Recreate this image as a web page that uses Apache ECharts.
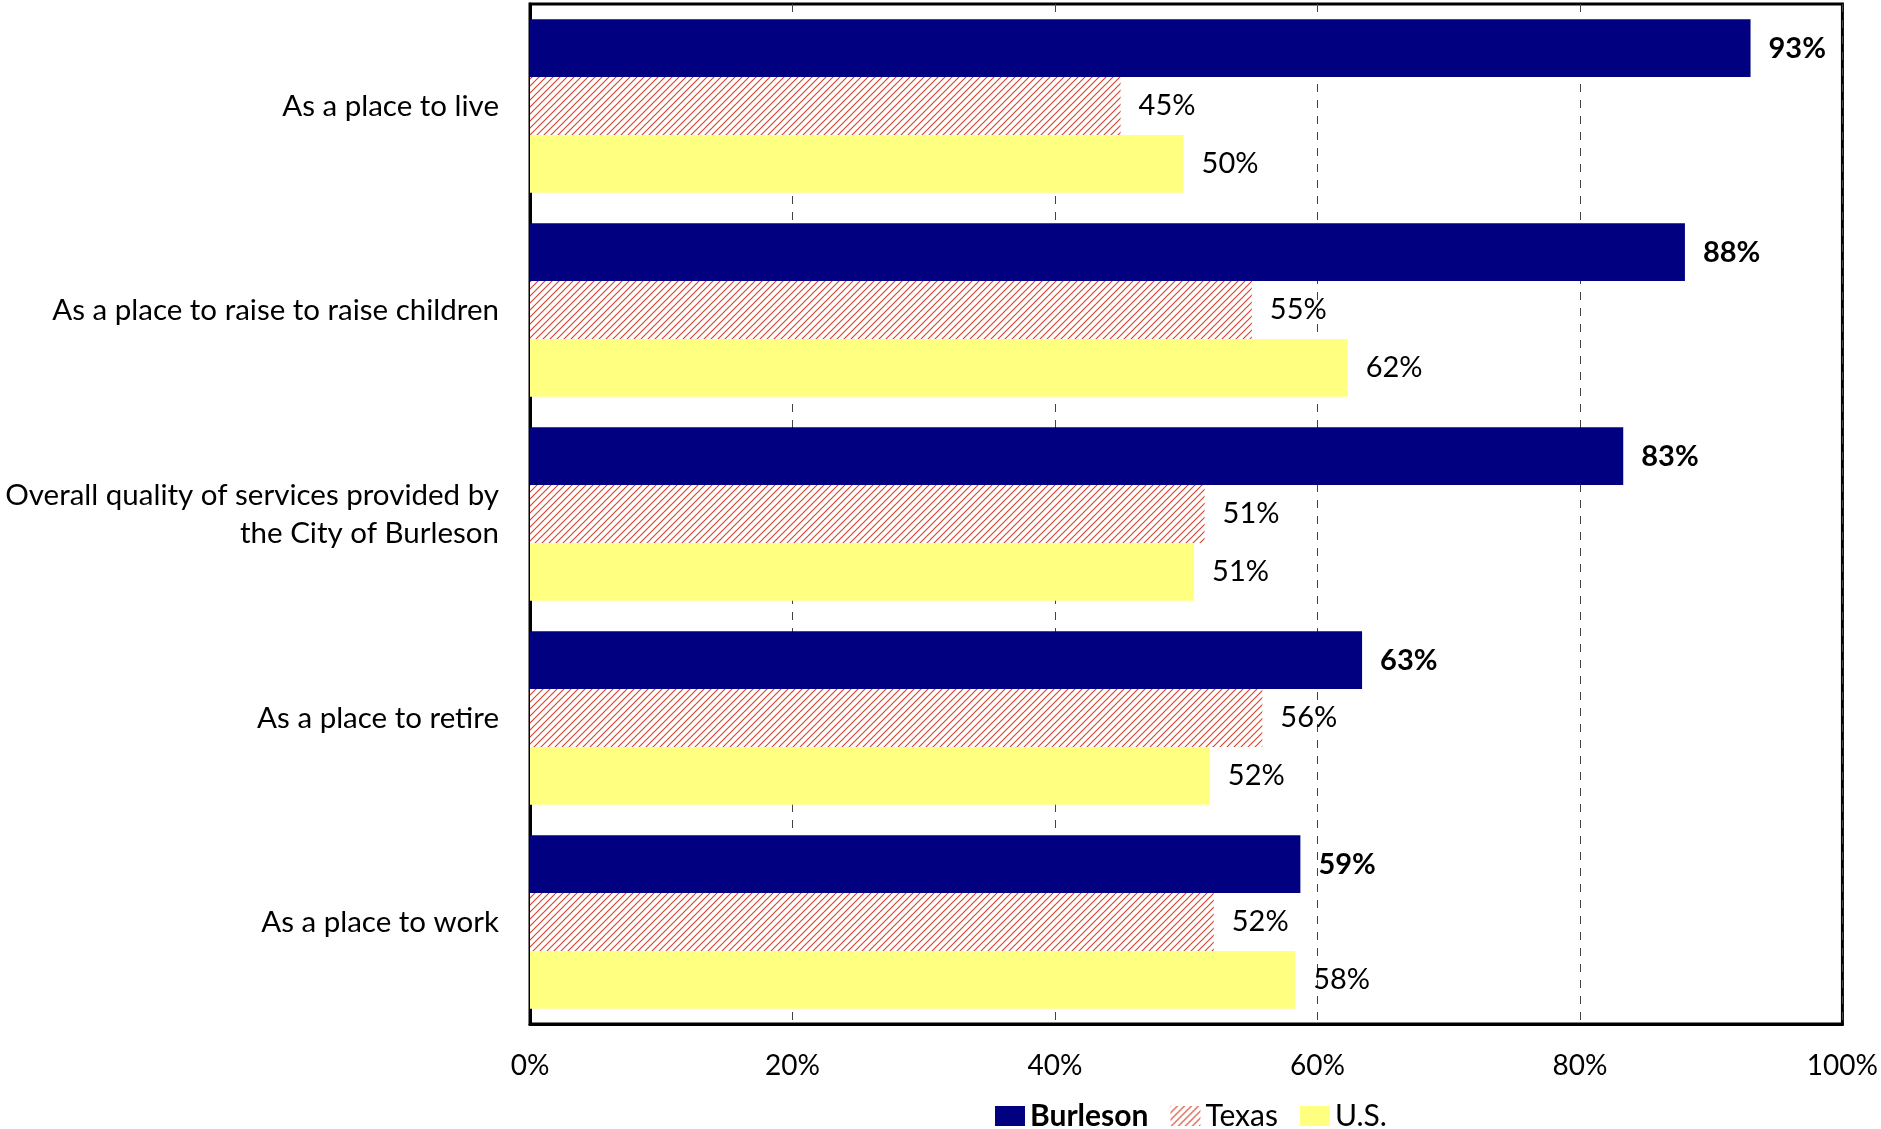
<!DOCTYPE html>
<html>
<head>
<meta charset="utf-8">
<script src="https://cdn.jsdelivr.net/npm/echarts@6/dist/echarts.min.js"></script>
<style>
html,body{margin:0;padding:0;background:#fff;}
#chart{width:1881px;height:1129px;}
</style>
</head>
<body>
<div id="chart"></div>
<script>
const categories = [
  'As a place to live',
  'As a place to raise to raise children',
  'Overall quality of services provided by\nthe City of Burleson',
  'As a place to retire',
  'As a place to work'
];
const seriesNames = ['Burleson', 'Texas', 'U.S.'];
const burleson = [93.0, 88.0, 83.3, 63.4, 58.7];
const texas = [45.0, 55.0, 51.4, 55.8, 52.1];
const us = [49.8, 62.3, 50.6, 51.8, 58.3];
const xTicks = [0, 20, 40, 60, 80, 100];

const FONT = 'Lato';

function hatch() {
  const c = document.createElement('canvas');
  c.width = 7; c.height = 7;
  const g = c.getContext('2d');
  g.fillStyle = '#ffffff';
  g.fillRect(0, 0, 7, 7);
  g.strokeStyle = '#d8402a';
  g.lineWidth = 1.1;
  g.beginPath();
  g.moveTo(-1, 8); g.lineTo(8, -1);
  g.moveTo(-8, 8); g.lineTo(1, -1);
  g.moveTo(6, 8); g.lineTo(15, -1);
  g.stroke();
  return {image: c, repeat: 'repeat'};
}

const chart = echarts.init(document.getElementById('chart'));
const labelBase = {
  show: true,
  position: 'right',
  distance: 18,
  fontFamily: FONT,
  fontSize: 29,
  color: '#000',
  formatter: p => Math.round(p.value) + '%'
};
chart.setOption({
  animation: false,
  backgroundColor: '#fff',
  textStyle: {fontFamily: FONT},
  grid: {
    left: 530, right: 37, top: 4, bottom: 105,
    show: true, borderColor: '#000', borderWidth: 3, containLabel: false
  },
  legend: {
    bottom: -7,
    left: 990,
    icon: 'rect',
    itemWidth: 30,
    itemHeight: 20,
    itemGap: 22,
    data: seriesNames,
    textStyle: {
      fontFamily: FONT, fontSize: 30, color: '#000',
      rich: {b: {fontFamily: FONT, fontSize: 30, fontWeight: 'bold', color: '#000'}}
    },
    formatter: n => n === 'Burleson' ? '{b|' + n + '}' : n
  },
  xAxis: {
    type: 'value',
    min: xTicks[0],
    max: xTicks[xTicks.length - 1],
    interval: 20,
    axisLine: {show: true, lineStyle: {color: '#000', width: 3}},
    axisTick: {show: false},
    splitLine: {show: true, lineStyle: {color: '#444', type: [8, 8], width: 1}},
    axisLabel: {
      margin: 28, fontFamily: FONT, fontSize: 28, color: '#000',
      formatter: v => v + '%'
    }
  },
  yAxis: {
    type: 'category',
    inverse: true,
    data: categories,
    axisLine: {show: true, lineStyle: {color: '#000', width: 3}},
    axisTick: {show: false},
    axisLabel: {
      margin: 31, fontFamily: FONT, fontSize: 29.5, color: '#000',
      align: 'right', lineHeight: 38
    }
  },
  series: [
    {
      name: seriesNames[0], type: 'bar', data: burleson,
      barGap: 0, barCategoryGap: '15%',
      itemStyle: {color: '#000080'},
      label: Object.assign({}, labelBase, {fontWeight: 'bold'})
    },
    {
      name: seriesNames[1], type: 'bar', data: texas,
      barGap: 0, barCategoryGap: '15%',
      itemStyle: {color: hatch()},
      label: labelBase
    },
    {
      name: seriesNames[2], type: 'bar', data: us,
      barGap: 0, barCategoryGap: '15%',
      itemStyle: {color: '#ffff80'},
      label: labelBase
    }
  ]
});
</script>
</body>
</html>
